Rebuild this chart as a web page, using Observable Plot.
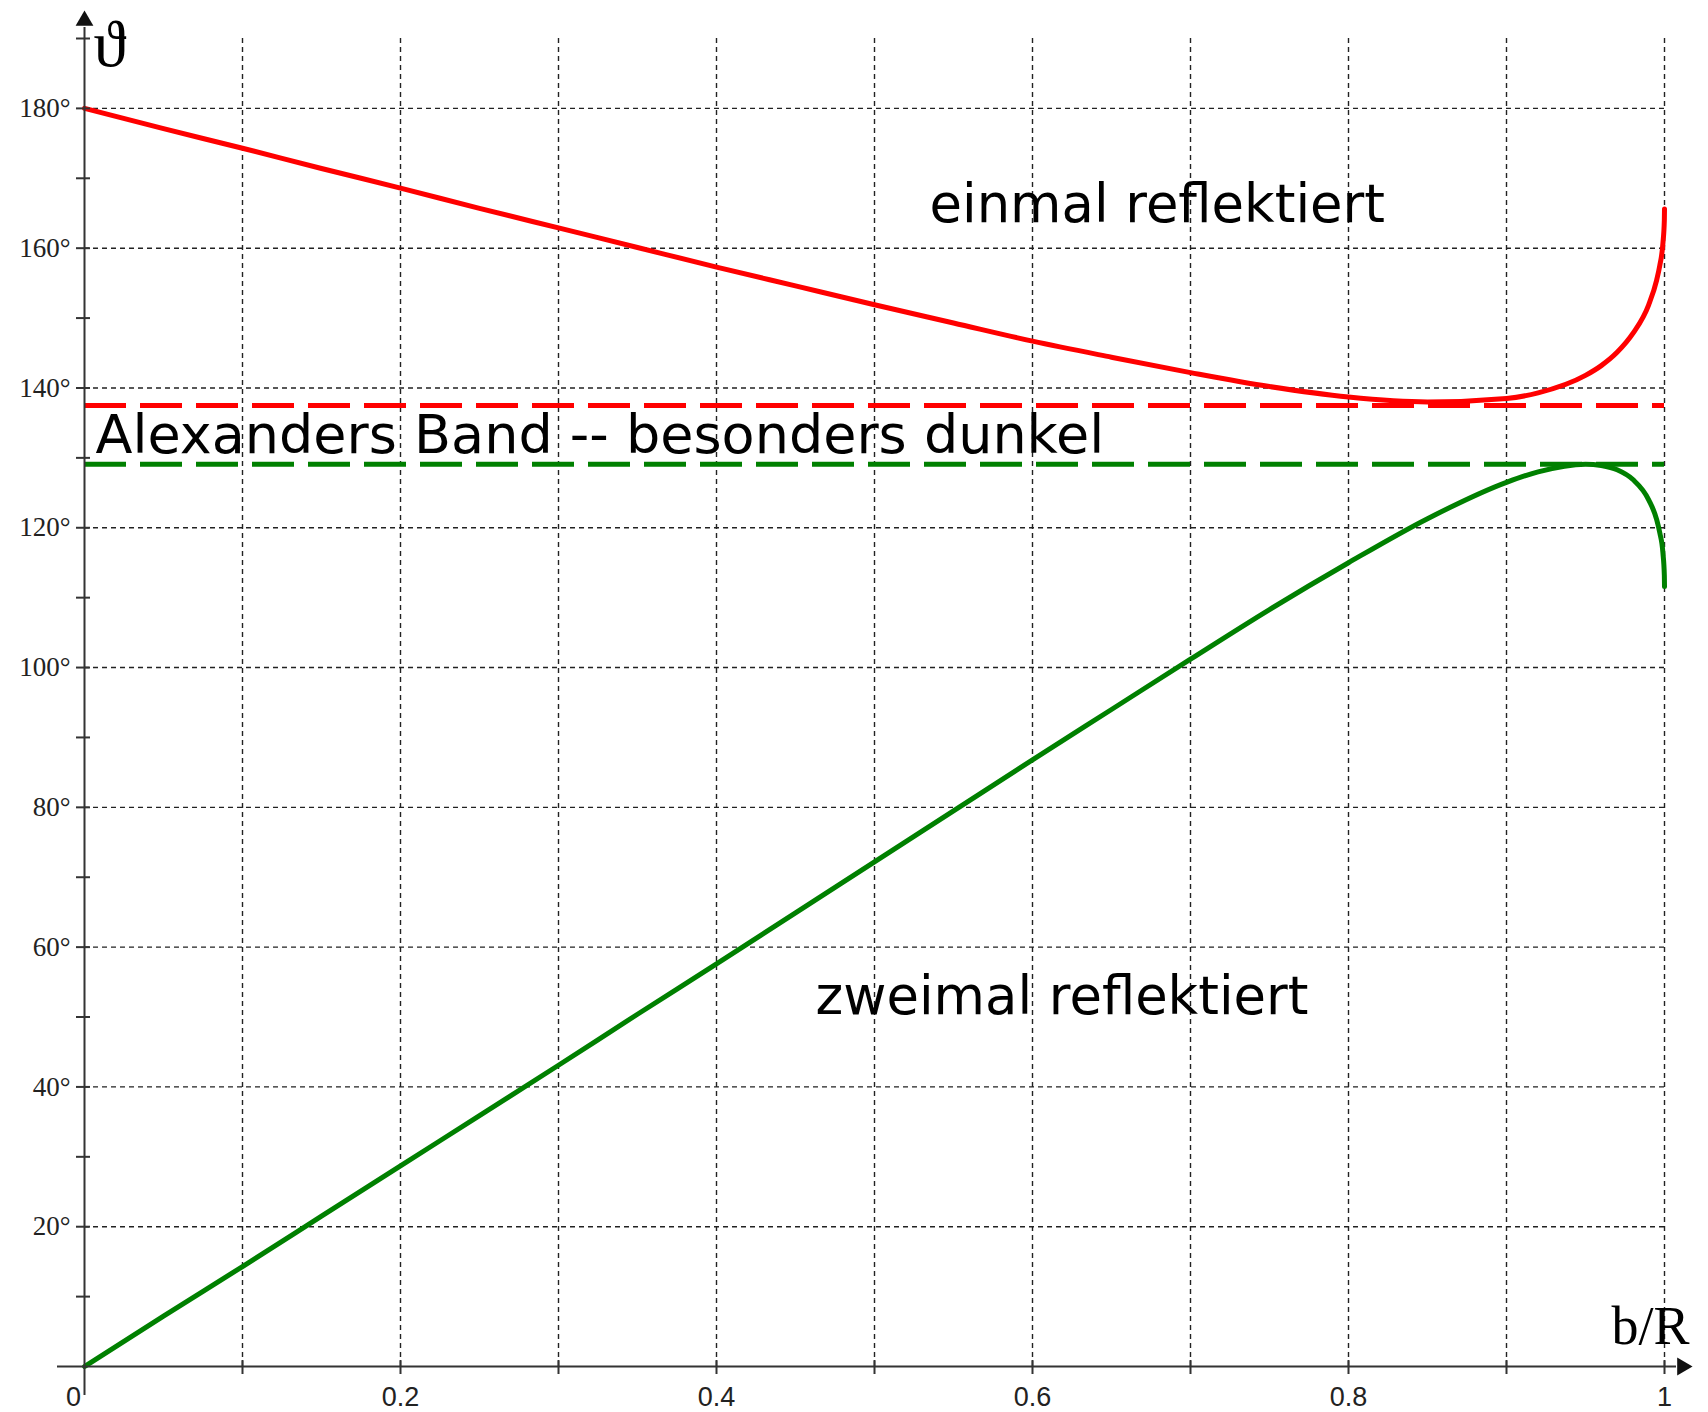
<!DOCTYPE html>
<html><head><meta charset="utf-8">
<script src="https://cdn.jsdelivr.net/npm/d3@7"></script>
<script src="https://cdn.jsdelivr.net/npm/@observablehq/plot@0.6"></script>
<style>html,body{margin:0;padding:0;background:#fff} #chart svg{display:block}</style>
</head><body><div id="chart"></div>
<script>
// impact parameter b/R
const bR = [0, 0.05, 0.1, 0.15, 0.2, 0.25, 0.3, 0.35, 0.4, 0.45, 0.5, 0.55, 0.6, 0.65, 0.7, 0.75, 0.8, 0.85, 0.9, 0.92, 0.95, 0.96, 0.97, 0.98, 0.99, 0.995, 0.997, 0.999, 0.9999, 1];
// deflection angle (degrees), one internal reflection
const thetaOnce = [180, 177.1, 174.3, 171.4, 168.6, 165.7, 162.9, 160.1, 157.3, 154.6, 151.9, 149.3, 146.7, 144.4, 142.2, 140.2, 138.7, 138.0, 138.5, 139.3, 141.8, 143.2, 145.1, 147.8, 151.9, 155.4, 157.5, 160.7, 164.0, 165.6];
// deflection angle (degrees), two internal reflections
const thetaTwice = [0, 7.2, 14.3, 21.5, 28.7, 35.9, 43.1, 50.4, 57.6, 64.9, 72.2, 79.5, 86.8, 94.0, 101.2, 108.3, 115.0, 121.3, 126.5, 128.0, 129.1, 128.9, 128.3, 126.9, 124.0, 121.2, 119.3, 116.4, 113.2, 111.6];
// Alexander's band limits
const bandUpper = 137.5;
const bandLower = 129.1;
// grid / ticks
const xGrid = [0.1, 0.2, 0.3, 0.4, 0.5, 0.6, 0.7, 0.8, 0.9, 1.0];
const yGrid = [20, 40, 60, 80, 100, 120, 140, 160, 180];
const yMinorTicks = [10, 20, 30, 40, 50, 60, 70, 80, 90, 100, 110, 120, 130, 140, 150, 160, 170, 180, 190];
const yTickLabels = [20, 40, 60, 80, 100, 120, 140, 160, 180];
const xTickLabels = [0.2, 0.4, 0.6, 0.8, 1];
const xTickText = ["0.2", "0.4", "0.6", "0.8", "1"];
// annotations
const annoText = ["einmal reflektiert", "Alexanders Band -- besonders dunkel", "zweimal reflektiert"];
const annoX = [0.5348, 0.007, 0.4627];
const annoY = [166.2, 133.1, 52.8];
const annoSize = [52.8, 54, 52.8];

const curveData = bR.map((b, i) => ({b, once: thetaOnce[i], twice: thetaTwice[i]}));
const annos = annoText.map((t, i) => ({t, x: annoX[i], y: annoY[i], s: annoSize[i]}));
const xLab = xTickLabels.map((v, i) => ({v, t: xTickText[i]}));

const gridStyle = {stroke: "#222", strokeWidth: 1.4, strokeDasharray: "5,4"};
const axisColor = "#333";

const chart = Plot.plot({
  width: 1708, height: 1412,
  marginLeft: 84, marginRight: 44, marginTop: 38, marginBottom: 46,
  x: {domain: [0, 1]},
  y: {domain: [0, 190]},
  style: {fontFamily: "'DejaVu Sans'", background: "#fff", overflow: "visible"},
  marks: [
    Plot.ruleX(xGrid, gridStyle),
    Plot.ruleY(yGrid, {x1: 0, x2: 1, ...gridStyle}),
    Plot.ruleY([bandUpper], {x1: 0, x2: 1, stroke: "#ff0000", strokeWidth: 5, strokeDasharray: "42,14"}),
    Plot.ruleY([bandLower], {x1: 0, x2: 1, stroke: "#008000", strokeWidth: 5, strokeDasharray: "42,14"}),
    Plot.line(curveData, {x: "b", y: "once", stroke: "#ff0000", strokeWidth: 5, curve: "monotone-x"}),
    Plot.line(curveData, {x: "b", y: "twice", stroke: "#008000", strokeWidth: 5, curve: "monotone-x"}),
    // axes lines
    Plot.ruleX([0], {stroke: axisColor, strokeWidth: 2, insetTop: -11, insetBottom: -29}),
    Plot.ruleY([0], {stroke: axisColor, strokeWidth: 2, insetLeft: -27, insetRight: -12}),
    // arrow heads
    Plot.dot([{x: 0, y: 190}], {x: "x", y: "y", dy: -17.8, symbol: "triangle", r: 6.6, fill: "#111", stroke: "none"}),
    Plot.dot([{x: 1, y: 0}], {x: "x", y: "y", dx: 17.8, rotate: 90, symbol: "triangle", r: 6.6, fill: "#111", stroke: "none"}),
    // ticks
    Plot.axisY({ticks: yMinorTicks, tickSize: 14, dx: 6, tickFormat: () => "", label: null, stroke: axisColor, strokeWidth: 2}),
    Plot.axisX({ticks: xGrid, tickSize: 14, dy: -6, tickFormat: () => "", label: null, stroke: axisColor, strokeWidth: 2}),
    // tick labels
    Plot.text(yTickLabels, {x: () => 0, y: d => d, text: d => d + "°", textAnchor: "end", dx: -14, fontFamily: "'Liberation Serif'", fontSize: 27, fill: "#222"}),
    Plot.text(xLab, {x: "v", y: () => 0, text: "t", lineAnchor: "top", dy: 20, fontFamily: "'Liberation Sans'", fontSize: 27, fill: "#222"}),
    Plot.text(["0"], {x: () => 0, y: () => 0, text: d => d, lineAnchor: "top", dy: 20, dx: -11, fontFamily: "'Liberation Sans'", fontSize: 27, fill: "#222"}),
    // axis titles
    Plot.text(["ϑ"], {x: () => 0, y: () => 190, text: d => d, textAnchor: "start", dx: 9, dy: 6, fontFamily: "'Liberation Serif'", fontSize: 66, fill: "#000"}),
    Plot.text(["b/R"], {x: () => 1, y: () => 0, text: d => d, textAnchor: "end", dx: 25, dy: -40, fontFamily: "'Liberation Serif'", fontSize: 54, fill: "#000"}),
    // annotations
    Plot.text(annos, {x: "x", y: "y", text: "t", fontSize: d => d.s, textAnchor: "start", fontFamily: "'DejaVu Sans'", fill: "#000"})
  ]
});
document.getElementById("chart").appendChild(chart);
</script>
</body></html>
